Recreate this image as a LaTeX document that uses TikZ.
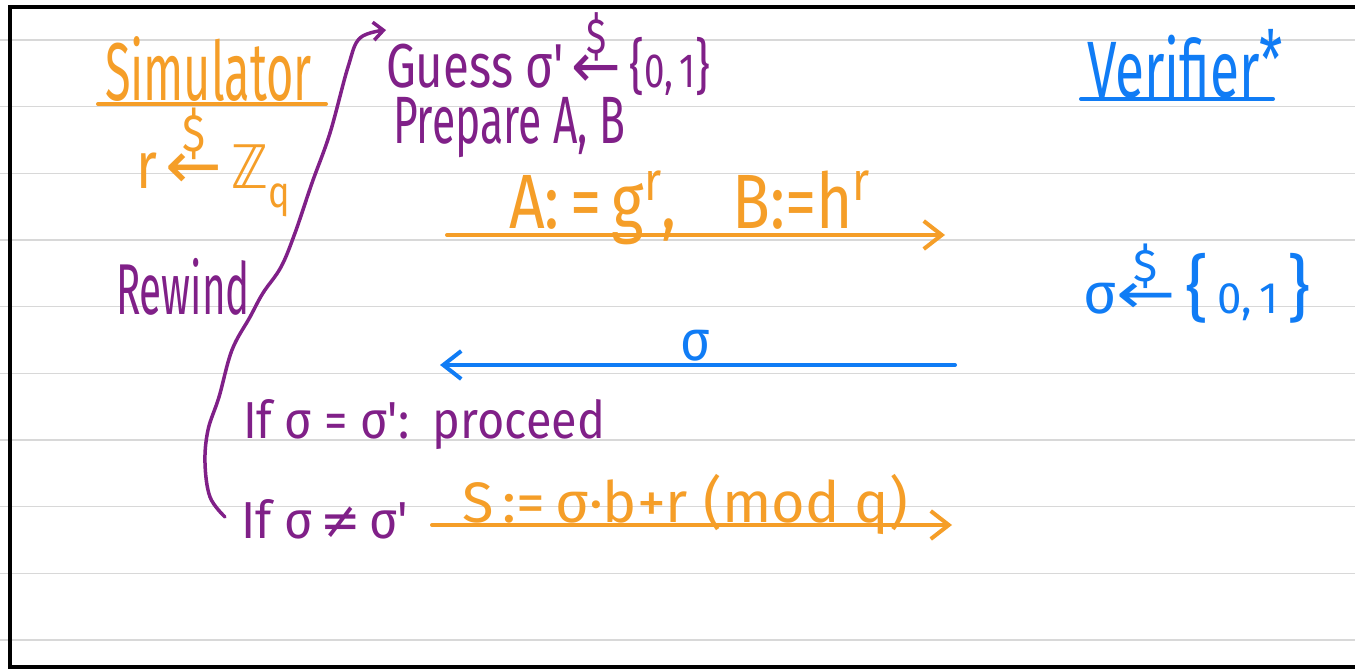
\documentclass[tikz,border=0pt]{standalone}
\usepackage{graphicx}
\usepackage{fontspec}
\setmainfont{Fira Sans}
\newfontfamily\symf{DejaVu Sans}
\usetikzlibrary{arrows.meta}
\definecolor{sorange}{RGB}{245,158,40}
\definecolor{spurple}{RGB}{128,32,136}
\definecolor{sblue}{RGB}{16,124,245}
\definecolor{ruleg}{RGB}{216,216,216}
\newcommand\fs[1]{\fontsize{#1}{#1}\selectfont}
\newcommand\wfit[2]{\resizebox{#1pt}{\height}{#2}}
\newcommand\samp{\ooalign{\hfil\raisebox{.55em}{\scalebox{.8}{\$}}\hfil\cr{\symf\scalebox{1.25}[1]{←}}\cr}}
\newcommand\prm{\textquotesingle}
\newcommand\sups[1]{\raisebox{.36em}{\fs{55}#1}}
\begin{document}
\begin{tikzpicture}[x=1pt,y=-1pt,
  txt/.style={anchor=base west,inner sep=0pt,outer sep=0pt},
  ink/.style={line width=4pt,line cap=round,line join=round},
  tip/.style={-{Straight Barb[length=18pt,width=28pt]}}]
\useasboundingbox (0,0) rectangle (1355,669);
\fill[white] (0,0) rectangle (1355,669);
\foreach \k in {0,...,9} \draw[ruleg,line width=1.5pt] (0,40+66.667*\k) -- (1355,40+66.667*\k);
\draw[line width=4pt] (1357,7) -- (10,7) -- (10,667) -- (1357,667);

% Simulator side
\node[txt,text=sorange,font=\fs{82}] (sim) at (105,100) {\wfit{207}{Simulator}};
\draw[ink,sorange] ([xshift=-7pt,yshift=-4pt]sim.base west) -- ([xshift=14pt,yshift=-4pt]sim.base east);
\node[txt,text=sorange,font=\fs{66}] (rz) at (136,188) {\wfit{154}{r\,\samp\,{\symf\fs{60}ℤ}\raisebox{-.3em}{\fs{44}q}}};
\node[txt,text=spurple,font=\fs{72}] (rew) at (116,314) {\wfit{134}{Rewind}};

% Verifier side
\node[txt,text=sblue,font=\fs{80}] (ver) at (1087,97) {\wfit{196}{Verifier\raisebox{.1em}{*}}};
\draw[ink,sblue] ([xshift=-6pt,yshift=-2pt]ver.base west) -- ([xshift=-10pt,yshift=-2pt]ver.base east);
\node[txt,text=sblue,font=\fs{57}] (vs) at (1083,313) {\wfit{228}{σ\samp\,{\fs{72}\{}\,{\fs{44}0,\,1}\,{\fs{72}\}}}};

% Messages
\node[txt,text=spurple,font=\fs{62}] (guess) at (386,88) {\wfit{324}{Guess σ\prm\,\samp\,{\fs{60}\{}{\fs{48}0,\,1}{\fs{60}\}}}};
\node[txt,text=spurple,font=\fs{67}] (prep) at (393,143) {\wfit{232}{Prepare A, B}};
\node[txt,text=sorange,font=\fs{77}] (m1) at (509,228) {\wfit{361}{A:\,=\,g\sups{r},\hspace{.9em}B:=h\sups{r}}};
\coordinate (a1s) at (447,235); \coordinate (a1e) at (945,235);
\draw[ink,sorange,tip] (a1s) -- (a1e);

\node[txt,text=sblue,font=\fs{57}] (sig) at (680,360) {\wfit{30}{σ}};
\coordinate (a2s) at (955,365); \coordinate (a2e) at (440,365);
\draw[ink,sblue,tip] (a2s) -- (a2e);

\node[txt,text=spurple,font=\fs{52}] (if1) at (243,438) {\wfit{362}{If σ = σ\prm:\hspace{.5em}proceed}};
\node[txt,text=spurple,font=\fs{52}] (if2) at (241,538) {\wfit{167}{If σ\,{\symf ≠}\,σ\prm}};
\node[txt,text=sorange,font=\fs{57}] (sm) at (462,522) {\wfit{446}{S\,:=\,σ·b+r (mod q)}};
\coordinate (a3s) at (432,525); \coordinate (a3e) at (952,525);
\draw[ink,sorange,tip] (a3s) -- (a3e);

% Rewind curve
\coordinate (rw0) at (225,517); \coordinate (rw1) at (386,30);
\draw[ink,spurple,line width=3.5pt,-{Straight Barb[length=10pt,width=18pt]}]
  plot[smooth,tension=0.6] coordinates {(rw0) (210,497) (205,463) (208,430) (219,397) (232,350) (250,317) (263,293) (281,267) (295,233) (312,183) (330,133) (348,67) (360,38) (rw1)};
\end{tikzpicture}
\end{document}
